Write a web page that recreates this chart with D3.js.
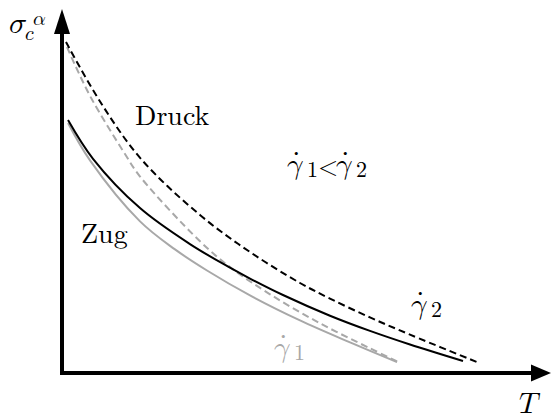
<!DOCTYPE html>
<html>
<head>
<meta charset="utf-8">
<script src="https://cdn.jsdelivr.net/npm/d3@7"></script>
<style>
  html, body { margin: 0; padding: 0; background: #fff; }
  svg { display: block; }
</style>
</head>
<body>
<svg id="chart" width="552" height="416"></svg>
<script>
// Temperature (normalised) and critical stress (normalised) for each curve
const druckFastT = [0.85, 8.09, 16.81, 29.36, 40.0, 50.64, 57.02, 65.53, 74.04, 88.94];
const druckFastS = [97.35, 79.85, 62.97, 46.47, 35.59, 26.47, 21.88, 16.35, 11.29, 2.85];

const druckSlowT = [1.06, 2.77, 6.38, 13.40, 16.60, 29.36, 35.74, 44.26, 54.89, 65.53, 71.91];
const druckSlowS = [95.88, 90.59, 80.44, 64.41, 57.79, 38.74, 31.15, 23.15, 14.62, 7.26, 3.03];

const zugFastT = [1.28, 6.60, 16.60, 27.23, 35.74, 40.0, 47.02, 57.02, 65.53, 74.04, 85.32];
const zugFastS = [74.41, 63.0, 48.5, 37.91, 30.97, 27.79, 22.94, 16.85, 12.38, 8.38, 3.53];

const zugSlowT = [1.28, 5.96, 16.60, 24.04, 30.85, 40.0, 50.64, 61.28, 71.28];
const zugSlowS = [73.53, 62.53, 44.59, 36.35, 30.15, 22.82, 15.47, 9.0, 3.21];

const BLACK = "#000000";
const GREY = "#a8a8a8";
const TEXT_FONT = '"Latin Modern Roman", "Liberation Serif", serif';
const MATH_FONT = '"Latin Modern Math", "Latin Modern Roman", "Liberation Serif", serif';

const curves = [
  { t: zugSlowT,   s: zugSlowS,   color: GREY,  dash: null },
  { t: druckSlowT, s: druckSlowS, color: GREY,  dash: "7,4" },
  { t: zugFastT,   s: zugFastS,   color: BLACK, dash: null },
  { t: druckFastT, s: druckFastS, color: BLACK, dash: "7,4" }
];

const svg = d3.select("#chart");
const x = d3.scaleLinear().domain([0, 100]).range([62, 532]);
const y = d3.scaleLinear().domain([0, 100]).range([373, 33]);

const line = d3.line()
  .x(d => x(d[0]))
  .y(d => y(d[1]))
  .curve(d3.curveCatmullRom.alpha(0.5));

svg.append("g").selectAll("path")
  .data(curves)
  .join("path")
  .attr("d", c => line(c.t.map((t, i) => [t, c.s[i]])))
  .attr("fill", "none")
  .attr("stroke", c => c.color)
  .attr("stroke-width", 2)
  .attr("stroke-dasharray", c => c.dash);

// Axes with arrow heads
const x0 = x(0), y0 = y(0), xEnd = x(100), yEnd = y(100);
svg.append("path")
  .attr("d", `M${x0},${yEnd} V${y0} H${xEnd}`)
  .attr("fill", "none")
  .attr("stroke", BLACK)
  .attr("stroke-width", 4)
  .attr("stroke-linejoin", "miter");

svg.append("path")
  .attr("d", `M${x0},${yEnd - 24} L${x0 - 8},${yEnd + 1} L${x0 + 8},${yEnd + 1} Z`)
  .attr("fill", BLACK);
svg.append("path")
  .attr("d", `M${xEnd + 19},${y0} L${xEnd - 1},${y0 - 8.5} L${xEnd - 1},${y0 + 8.5} Z`)
  .attr("fill", BLACK);

function measure(str, size, family) {
  const t = svg.append("text").style("font-family", family)
    .style("font-size", size + "px").text(str);
  const w = t.node().getComputedTextLength();
  t.remove();
  return w;
}

function span(parent, str, size, family, attrs = {}) {
  const s = parent.append("tspan")
    .style("font-family", family)
    .style("font-size", size + "px")
    .text(str);
  for (const k in attrs) s.attr(k, attrs[k]);
  return s;
}

// Axis titles: sigma_c^alpha and T (math italic)
const yTitle = svg.append("text").attr("x", 9).attr("y", 33).attr("fill", BLACK);
span(yTitle, "𝜎", 30, MATH_FONT);
span(yTitle, "𝑐", 20, MATH_FONT, { x: 25, y: 40 });
span(yTitle, "𝛼", 20, MATH_FONT, { x: 33, y: 25 });

const xTitle = svg.append("text").attr("x", 519).attr("y", 413).attr("fill", BLACK);
span(xTitle, "𝑇", 30, MATH_FONT);

// Curve annotations
svg.append("text").attr("x", 135).attr("y", 125)
  .style("font-family", TEXT_FONT).style("font-size", "28px").text("Druck");
svg.append("text").attr("x", 81).attr("y", 243)
  .style("font-family", TEXT_FONT).style("font-size", "28px").text("Zug");

// Strain rate: math-italic gamma with an overdot and a numeric subscript
const GAMMA_SIZE = 29;
const wGamma = measure("𝛾", GAMMA_SIZE, MATH_FONT);
const wDot = measure("˙", GAMMA_SIZE, TEXT_FONT);

function rate(parent, px, py, sub) {
  span(parent, "𝛾", GAMMA_SIZE, MATH_FONT, { x: px, y: py });
  span(parent, "˙", GAMMA_SIZE, TEXT_FONT, { x: px + wGamma * 0.62 - wDot / 2, y: py - 3 });
  span(parent, sub, 22, TEXT_FONT, { x: px + 20, y: py + 3 });
}

const cmp = svg.append("text").attr("fill", BLACK);
rate(cmp, 287, 174, "1");
span(cmp, "<", 26, TEXT_FONT, { x: 318, y: 175 });
rate(cmp, 336, 174, "2");

rate(svg.append("text").attr("fill", BLACK), 411, 314, "2");
rate(svg.append("text").attr("fill", GREY), 274, 357, "1");
</script>
</body>
</html>
